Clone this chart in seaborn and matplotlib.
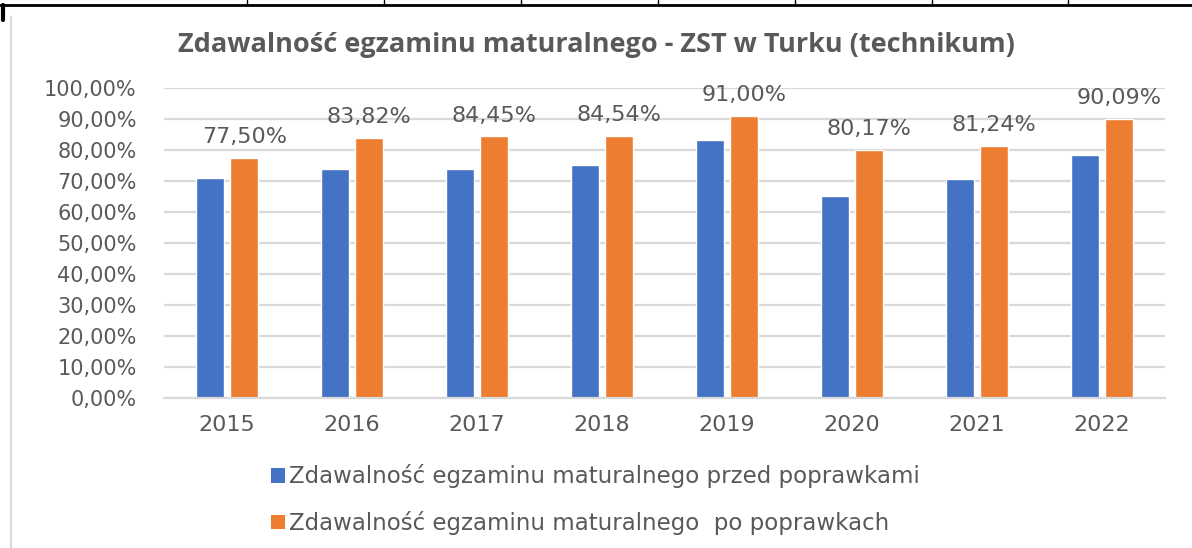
import pandas as pd
import numpy as np
import matplotlib.pyplot as plt
import seaborn as sns
from matplotlib.lines import Line2D
from matplotlib.patches import Patch

# data
years = ['2015', '2016', '2017', '2018', '2019', '2020', '2021', '2022']
przed = [71.0, 73.9, 73.9, 75.1, 83.3, 65.2, 70.8, 78.5]
po = [77.50, 83.82, 84.45, 84.54, 91.00, 80.17, 81.24, 90.09]
series = ['Zdawalność egzaminu maturalnego przed poprawkami',
          'Zdawalność egzaminu maturalnego  po poprawkach']
colors = ['#4472C4', '#ED7D31']

df = pd.DataFrame({
    'rok': years * 2,
    'wartosc': przed + po,
    'seria': [series[0]] * len(years) + [series[1]] * len(years),
})

sns.set_style('white')
plt.rcParams['font.family'] = ['DejaVu Sans']
gray = '#595959'

fig = plt.figure(figsize=(11.92, 5.48), dpi=100)
ax = fig.add_axes([0.138, 0.274, 0.839, 0.565])

bar_w = 0.55
sns.barplot(data=df, x='rok', y='wartosc', hue='seria', palette=colors,
            width=bar_w, gap=0.19, ax=ax, legend=False, saturation=1)

ax.set_ylim(0, 100)
ax.set_xlim(-0.5, len(years) - 0.5)
ax.set_yticks(np.arange(0, 101, 10))
ax.set_yticklabels([f'{v:.2f}'.replace('.', ',') + '%' for v in np.arange(0, 101, 10)],
                   color=gray, fontsize=15)
ax.set_xticks(range(len(years)))
ax.set_xticklabels(years, color=gray, fontsize=16)
ax.tick_params(axis='x', length=0, pad=12)
ax.tick_params(axis='y', length=0, pad=20)
ax.yaxis.grid(True, color='#D9D9D9', linewidth=1.6)
ax.set_axisbelow(True)
for s in ['top', 'right', 'left']:
    ax.spines[s].set_visible(False)
ax.spines['bottom'].set_color('#D9D9D9')
ax.spines['bottom'].set_linewidth(1.6)
ax.set_xlabel('')
ax.set_ylabel('')

# data labels centred above the orange bars
for i, v in enumerate(po):
    ax.text(i + bar_w / 4, v + 3.5, f'{v:.2f}'.replace('.', ',') + '%', ha='center',
            va='bottom', color=gray, fontsize=16)

fig.text(0.5, 0.917, 'Zdawalność egzaminu maturalnego - ZST w Turku (technikum)',
         ha='center', va='center', fontsize=19.5, fontweight='bold', color=gray,
         family=['Open Sans', 'DejaVu Sans'])

handles = [Patch(facecolor=c, edgecolor='none') for c in colors]
leg = fig.legend(handles, series, loc='center left', bbox_to_anchor=(0.21, 0.088),
                 ncol=1, frameon=False, handlelength=0.6, handleheight=0.6,
                 handletextpad=0.2, labelspacing=1.0,
                 prop={'family': ['DejaVu Sans'], 'size': 16.5})
for t in leg.get_texts():
    t.set_color(gray)

# table borders around the chart
fig.add_artist(Line2D([0, 1], [1 - 5 / 548] * 2, color='black', lw=2))
fig.add_artist(Line2D([3 / 1192] * 2, [1 - 5 / 548, 1 - 20 / 548], color='black', lw=3))
for x in [247, 384, 521, 658, 795, 932, 1068]:
    fig.add_artist(Line2D([x / 1192] * 2, [1, 1 - 5 / 548], color='black', lw=1))
fig.add_artist(Line2D([11 / 1192] * 2, [0, 1 - 17 / 548], color='#D9D9D9', lw=1.5))

fig.savefig('out.png', dpi=100)
